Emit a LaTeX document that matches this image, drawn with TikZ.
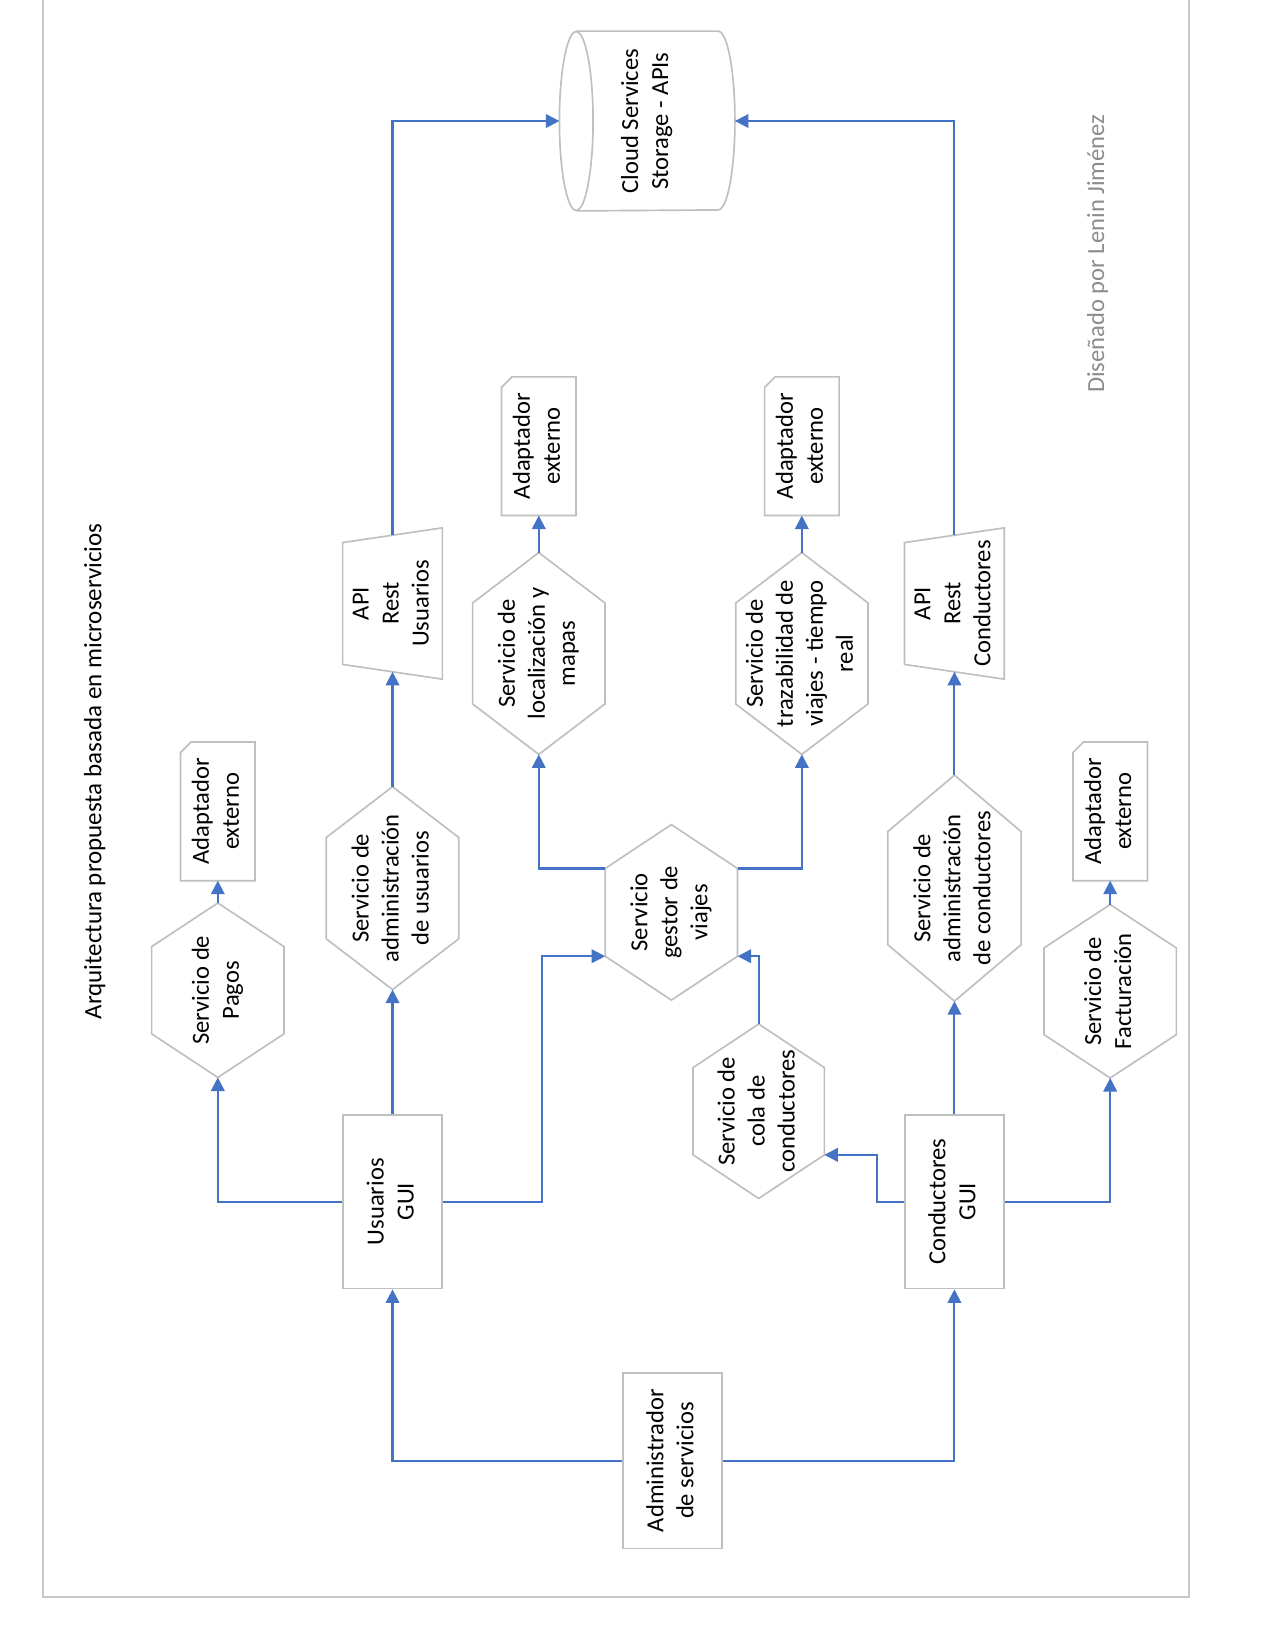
\documentclass[tikz,border=0pt]{standalone}
\usepackage{fontspec}
\setmainfont{Carlito}
\usepackage{graphicx}
\usetikzlibrary{calc,arrows.meta}

\definecolor{linkblue}{HTML}{4472C4}
\definecolor{edgegray}{HTML}{BFBFBF}
\definecolor{framegray}{HTML}{C8C8C8}
\definecolor{creditgray}{HTML}{8C8C8C}

% text set bottom-to-top, several centred lines
\newcommand\vtext[1]{\rotatebox{90}{\begin{tabular}{@{}c@{}}#1\end{tabular}}}

% outlines drawn around invisible nodes
\newcommand\hexoutline[1]{%
  \draw[shapeline] (#1.north)
    -- ($(#1.north east)!0.25!(#1.south east)$)
    -- ($(#1.north east)!0.75!(#1.south east)$)
    -- (#1.south)
    -- ($(#1.north west)!0.75!(#1.south west)$)
    -- ($(#1.north west)!0.25!(#1.south west)$) -- cycle;}
\newcommand\snipoutline[1]{%
  \draw[shapeline] ($(#1.north west)+(0,10)$) -- ($(#1.north west)+(10,0)$)
    -- (#1.north east) -- (#1.south east) -- (#1.south west) -- cycle;}
\newcommand\trapoutline[1]{%
  \draw[shapeline] ($(#1.north west)+(0,14)$) -- (#1.north east)
    -- (#1.south east) -- ($(#1.south west)+(0,-14)$) -- cycle;}

\tikzset{
  conn/.style={draw=linkblue, line width=1pt, -{Triangle[length=6.5pt,width=6.5pt]}},
  shapeline/.style={draw=edgegray, line width=0.8pt},
  body/.style={inner sep=0pt, font=\fontsize{11.8pt}{14.4pt}\selectfont},
  sz/.style 2 args={minimum width=#1*0.505pt, minimum height=#2*0.505pt},
  rectbox/.style={body, shapeline},
}

\begin{document}
\begin{tikzpicture}[x=0.505pt, y=-0.505pt]
\useasboundingbox (0,0) rectangle (1212,1568);

% page frame
\draw[framegray, line width=1pt] (41,-5) -- (41,1518) -- (1130,1518) -- (1130,-5);

% title and credit
\node[body, font=\fontsize{12pt}{14.4pt}\selectfont] (title) at (90,733)
  {\rotatebox{90}{Arquitectura propuesta basada en microservicios}};
\node[body, text=creditgray] (credit) at (1043,241)
  {\rotatebox{90}{Diseñado por Lenin Jiménez}};

% rectangles
\node[rectbox, sz={94}{165}] (ug) at (373,1142) {\vtext{Usuarios\\GUI}};
\node[rectbox, sz={94}{165}] (cg) at (907,1142) {\vtext{Conductores\\GUI}};
\node[rectbox, sz={94}{167}] (adm) at (639,1388) {\vtext{Administrador\\de servicios}};

% services
\node[body, sz={125}{165}] (pag) at (207,941) {\vtext{Servicio de\\Pagos}};
\hexoutline{pag}
\node[body, sz={125}{192}] (au) at (373,844) {\vtext{Servicio de\\administración\\de usuarios}};
\hexoutline{au}
\node[body, sz={125}{191}] (loc) at (512,621) {\vtext{Servicio de\\localización y\\mapas}};
\hexoutline{loc}
\node[body, sz={125}{191}] (tra) at (762,621) {\vtext{Servicio de\\trazabilidad de\\viajes - tiempo\\real}};
\hexoutline{tra}
\node[body, sz={125}{166}] (ges) at (638,867) {\vtext{Servicio\\gestor de\\viajes}};
\hexoutline{ges}
\node[body, sz={124}{165}] (cola) at (721,1056) {\vtext{Servicio de\\cola de\\conductores}};
\hexoutline{cola}
\node[body, sz={126}{214}] (ac) at (907,844) {\vtext{Servicio de\\administración\\de conductores}};
\hexoutline{ac}
\node[body, sz={125}{164}] (fac) at (1055,942) {\vtext{Servicio de\\Facturación}};
\hexoutline{fac}

% hexagon side corners used by connectors
\coordinate (ges-lu) at ($(ges.north west)!0.25!(ges.south west)$);
\coordinate (ges-ll) at ($(ges.north west)!0.75!(ges.south west)$);
\coordinate (ges-ru) at ($(ges.north east)!0.25!(ges.south east)$);
\coordinate (ges-rl) at ($(ges.north east)!0.75!(ges.south east)$);
\coordinate (cola-rl) at ($(cola.north east)!0.75!(cola.south east)$);

% external adapters
\node[body, sz={70}{131}] (ad1) at (207,771) {\vtext{Adaptador\\externo}};
\snipoutline{ad1}
\node[body, sz={70}{131}] (ad2) at (512,424) {\vtext{Adaptador\\externo}};
\snipoutline{ad2}
\node[body, sz={70}{131}] (ad3) at (762,424) {\vtext{Adaptador\\externo}};
\snipoutline{ad3}
\node[body, sz={70}{131}] (ad4) at (1055,771) {\vtext{Adaptador\\externo}};
\snipoutline{ad4}

% REST APIs
\node[body, sz={94}{143}] (apiu) at (373,573.5) {\vtext{API\\Rest\\Usuarios}};
\trapoutline{apiu}
\node[body, sz={94}{143}] (apic) at (907,573.5) {\vtext{API\\Rest\\Conductores}};
\trapoutline{apic}
\coordinate (apiu-top) at ($(apiu.north)+(0,7)$);
\coordinate (apiu-bot) at ($(apiu.south)+(0,-7)$);
\coordinate (apic-top) at ($(apic.north)+(0,7)$);
\coordinate (apic-bot) at ($(apic.south)+(0,-7)$);

% cloud storage cylinder
\node[body, sz={166}{170}] (cyl) at (615,115) {\vtext{Cloud Services\\Storage - APIs}};
\draw[shapeline] ($(cyl.north west)+(16,0)$) -- ($(cyl.north east)+(-16,0)$)
  arc[start angle=90, end angle=-90, x radius=8.08pt, y radius=42.9pt]
  -- ($(cyl.south west)+(16,0)$);
\draw[shapeline] ($(cyl.west)+(16,0)$) ellipse[x radius=8.08pt, y radius=42.9pt];

% connectors
\draw[conn] (adm.west) -| (ug.south);
\draw[conn] (adm.east) -| (cg.south);
\draw[conn] (ug.west) -| (pag.south);
\draw[conn] (ug.north) -- (au.south);
\draw[conn] (au.north) -- (apiu-bot);
\draw[conn] (apiu-top) |- (cyl.west);
\draw[conn] (pag.north) -- (ad1.south);
\draw[conn] (loc.north) -- (ad2.south);
\draw[conn] (tra.north) -- (ad3.south);
\draw[conn] (ug.east) -- ++(94,0) |- (ges-ll);
\draw[conn] (ges-lu) -| (loc.south);
\draw[conn] (ges-ru) -| (tra.south);
\draw[conn] (cola.north) |- (ges-rl);
\draw[conn] (cg.west) -- ++(-26,0) |- (cola-rl);
\draw[conn] (cg.north) -- (ac.south);
\draw[conn] (ac.north) -- (apic-bot);
\draw[conn] (apic-top) |- (cyl.east);
\draw[conn] (cg.east) -| (fac.south);
\draw[conn] (fac.north) -- (ad4.south);
\end{tikzpicture}
\end{document}
